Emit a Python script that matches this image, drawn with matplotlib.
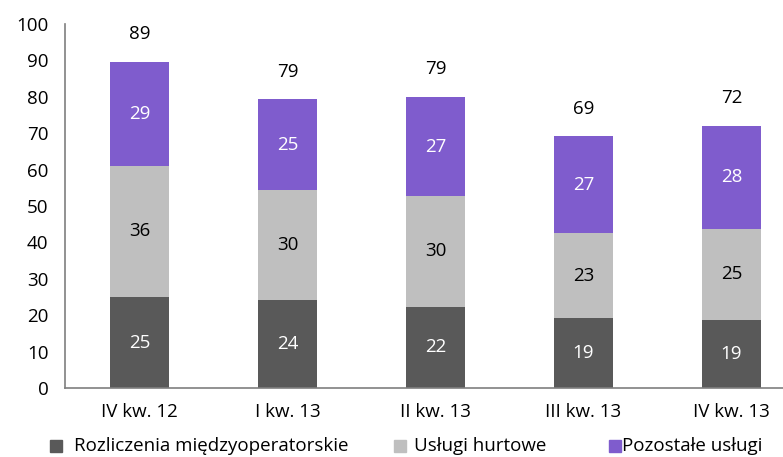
import matplotlib
matplotlib.use("Agg")
import matplotlib.pyplot as plt
from matplotlib.patches import Rectangle
import numpy as np

categories = ["IV kw. 12", "I kw. 13", "II kw. 13", "III kw. 13", "IV kw. 13"]
rozliczenia = [25.0, 24.3, 22.3, 19.2, 18.7]
hurtowe = [36.0, 30.1, 30.4, 23.3, 25.0]
pozostale = [28.6, 24.9, 27.2, 26.6, 28.4]
totals = [89, 79, 79, 69, 72]
series_names = ["Rozliczenia międzyoperatorskie", "Usługi hurtowe", "Pozostałe usługi"]
yticks = [0, 10, 20, 30, 40, 50, 60, 70, 80, 90, 100]

c_dark = "#595959"
c_light = "#bfbfbf"
c_purple = "#7f5ccd"

plt.rcParams['font.family'] = ['Open Sans', 'DejaVu Sans']
FS = 13.5

fig = plt.figure(figsize=(7.83, 4.57), dpi=100)
ax = fig.add_axes([65/783, 69/457, 1 - 65/783, (388-24)/457])

x = np.arange(len(categories))
w = 0.4
ax.bar(x, rozliczenia, w, color=c_dark)
bottom2 = np.array(rozliczenia)
ax.bar(x, hurtowe, w, bottom=bottom2, color=c_light)
bottom3 = bottom2 + np.array(hurtowe)
ax.bar(x, pozostale, w, bottom=bottom3, color=c_purple)

for i in range(len(categories)):
    ax.text(x[i], rozliczenia[i] / 2, f"{rozliczenia[i]:.0f}", ha='center', va='center', color='white', fontsize=FS)
    ax.text(x[i], bottom2[i] + hurtowe[i] / 2, f"{hurtowe[i]:.0f}", ha='center', va='center', color='black', fontsize=FS)
    ax.text(x[i], bottom3[i] + pozostale[i] / 2, f"{pozostale[i]:.0f}", ha='center', va='center', color='white', fontsize=FS)
    top = bottom3[i] + pozostale[i]
    ax.annotate(f"{totals[i]}", (x[i], top), xytext=(0, 20), textcoords='offset points',
                ha='center', va='center', color='black', fontsize=FS)

ax.set_ylim(0, 100)
ax.set_xlim(-0.503, 4.348)
ax.set_yticks(yticks)
ax.set_yticklabels([str(t) for t in yticks], fontsize=FS)
ax.set_xticks(x)
ax.set_xticklabels(categories, fontsize=FS)
ax.tick_params(axis='y', length=0, pad=12)
ax.tick_params(axis='x', length=0, pad=11)
for s in ['top', 'right']:
    ax.spines[s].set_visible(False)
for s in ['left', 'bottom']:
    ax.spines[s].set_color('#7f7f7f')
    ax.spines[s].set_linewidth(1.2)

# legend (manual layout)
W, H = 783, 457
legend_items = [(50, 74, c_dark, series_names[0]),
                (394, 414, c_light, series_names[1]),
                (609, 622, c_purple, series_names[2])]
yc = 446
sq = 12
for sx, tx, col, name in legend_items:
    fig.patches.append(Rectangle((sx / W, (H - yc - sq / 2) / H), sq / W, sq / H,
                                 transform=fig.transFigure, color=col))
    fig.text(tx / W, (H - yc) / H, name, ha='left', va='center', fontsize=FS)

fig.savefig("out.png", dpi=100)
